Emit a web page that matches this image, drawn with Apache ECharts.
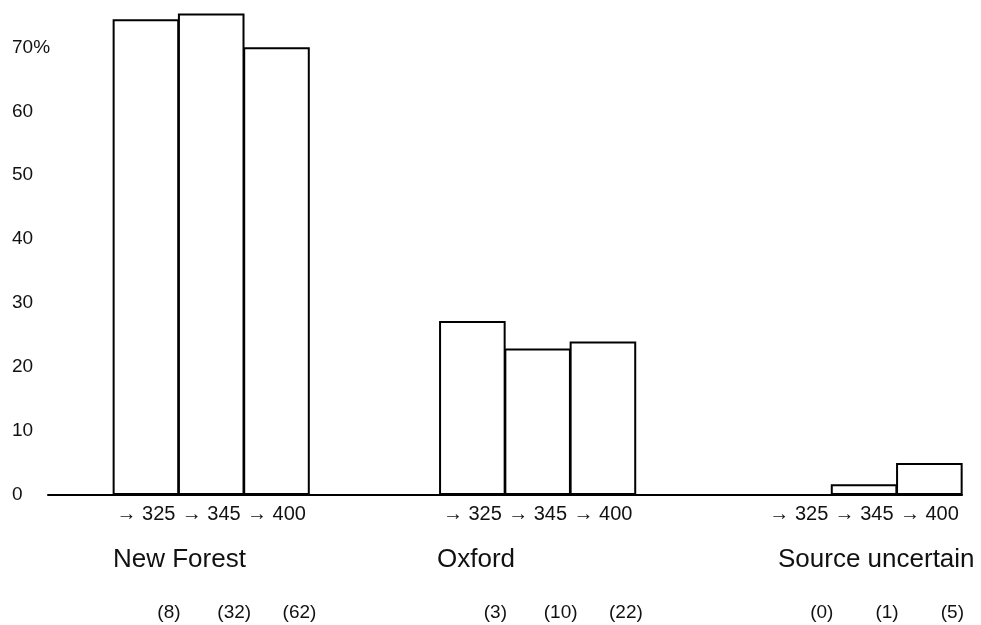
<!DOCTYPE html>
<html>
<head>
<meta charset="utf-8">
<script src="https://cdn.jsdelivr.net/npm/echarts@6/dist/echarts.min.js"></script>
<style>
html,body{margin:0;padding:0;background:#fff;}
#chart{width:981px;height:625px;}
</style>
</head>
<body>
<div id="chart"></div>
<script>
// ---- data ----
const groups = ['New Forest', 'Oxford', 'Source uncertain'];
const bins = ['→ 325', '→ 345', '→ 400'];
const newForest = [74.4, 75.3, 70.0];
const oxford = [27.2, 22.9, 24.0];
const sourceUncertain = [0, 1.7, 5.0];
const countsNewForest = ['(8)', '(32)', '(62)'];
const countsOxford = ['(3)', '(10)', '(22)'];
const countsSourceUncertain = ['(0)', '(1)', '(5)'];
const yTicks = [0, 10, 20, 30, 40, 50, 60, 70];

// ---- build slots (1 empty slot before, 2 empty slots between groups) ----
const groupValues = [newForest, oxford, sourceUncertain];
const groupCounts = [countsNewForest, countsOxford, countsSourceUncertain];
const slotLabels = [], slotCounts = [], slotValues = [];
function addGap(n){ for(let i=0;i<n;i++){ slotLabels.push(''); slotCounts.push(''); slotValues.push(null);} }
addGap(1);
groupValues.forEach((vals, g) => {
  if (g > 0) addGap(2);
  vals.forEach((v, i) => { slotLabels.push(bins[i]); slotCounts.push(groupCounts[g][i]); slotValues.push(v); });
});
const cats = slotLabels.map((_, i) => 's' + i);

const FONT = '"Liberation Sans", Arial, Helvetica, sans-serif';
const chart = echarts.init(document.getElementById('chart'));
const gridLeft = 48, gridRight = 19, gridTop = 9, gridBottom = 130;

chart.setOption({
  animation: false,
  backgroundColor: '#fff',
  grid: { left: gridLeft, right: gridRight, top: gridTop, bottom: gridBottom, containLabel: false },
  xAxis: [
    {
      type: 'category', data: cats, position: 'bottom',
      axisLine: { show: true, lineStyle: { color: '#000', width: 2 } },
      axisTick: { show: false },
      splitLine: { show: false },
      axisLabel: {
        interval: 0, margin: 9, fontSize: 20, color: '#111', fontFamily: FONT,
        formatter: (v, i) => slotLabels[i]
      }
    },
    {
      type: 'category', data: cats, position: 'bottom',
      axisLine: { show: false }, axisTick: { show: false }, splitLine: { show: false },
      axisLabel: {
        interval: 0, margin: 108, fontSize: 19, color: '#111', fontFamily: FONT,
        padding: [0, 0, 0, 46],
        formatter: (v, i) => slotCounts[i]
      }
    }
  ],
  yAxis: {
    type: 'value', min: 0, max: 76, interval: 10,
    axisLine: { show: false }, axisTick: { show: false }, splitLine: { show: false },
    axisLabel: {
      align: 'left', margin: 36, fontSize: 19, color: '#111', fontFamily: FONT,
      formatter: v => yTicks.includes(v) ? (v === 70 ? '70%' : String(v)) : ''
    }
  },
  graphic: [
    { type: 'text', left: 113, top: 547, style: { text: groups[0], fill: '#111', font: '26px ' + FONT } },
    { type: 'text', left: 437, top: 547, style: { text: groups[1], fill: '#111', font: '26px ' + FONT } },
    { type: 'text', left: 778, top: 547, style: { text: groups[2], fill: '#111', font: '26px ' + FONT } }
  ],
  series: [{
    type: 'bar', data: slotValues, barWidth: '102%', xAxisIndex: 0,
    itemStyle: { color: '#fff', borderColor: '#000', borderWidth: 2 },
    emphasis: { disabled: true }
  }]
});
</script>
</body>
</html>
